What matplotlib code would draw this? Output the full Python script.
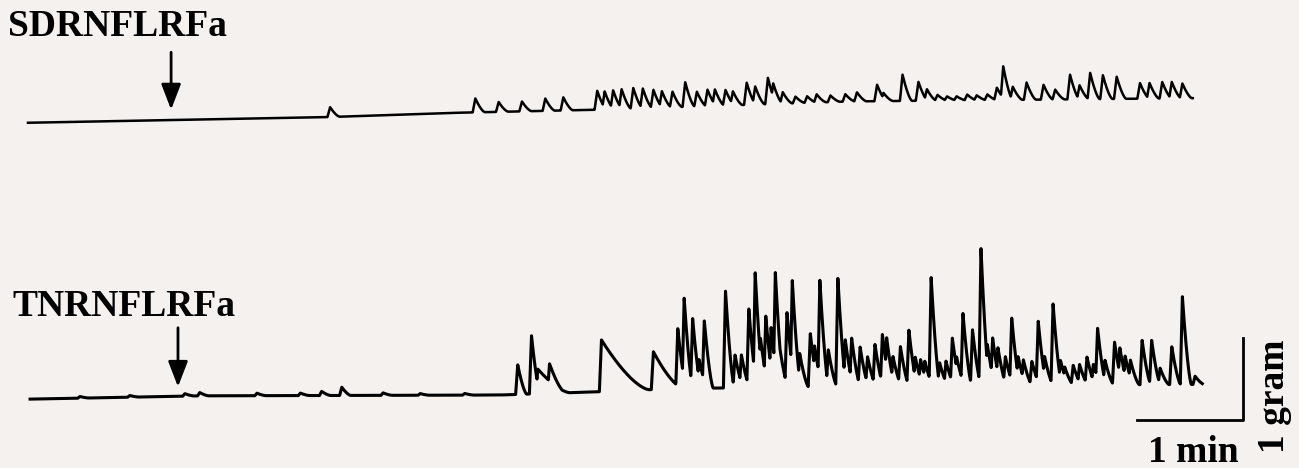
import numpy as np
import matplotlib.pyplot as plt

# time in minutes, force in grams (scale bar: 1 min x 1 gram)

# SDRNFLRFa trace (top)
sd_base_t = [0, 2.85, 3.98, 5.40, 7.75, 10.99]
sd_base_g = [0, 0.07, 0.12, 0.16, 0.26, 0.30]
sd_peak_t = [2.85, 4.22, 4.44, 4.66, 4.88, 5.05, 5.37, 5.44, 5.52, 5.60,
             5.71, 5.80, 5.90, 5.98, 6.08, 6.20, 6.31, 6.41, 6.48, 6.58,
             6.65, 6.78, 6.86, 6.98, 7.03, 7.12, 7.24, 7.35, 7.44, 7.57,
             7.71, 7.82, 8.01, 8.07, 8.25, 8.40, 8.48, 8.58, 8.67, 8.76,
             8.86, 8.95, 9.05, 9.14, 9.20, 9.29, 9.42, 9.58, 9.69, 9.83,
             9.92, 10.02, 10.14, 10.27, 10.49, 10.58, 10.70, 10.79, 10.89]
sd_peak_g = [0.12, 0.17, 0.12, 0.12, 0.15, 0.16, 0.23, 0.22, 0.23, 0.24,
             0.25, 0.24, 0.22, 0.20, 0.19, 0.30, 0.18, 0.20, 0.20, 0.19,
             0.17, 0.27, 0.22, 0.32, 0.25, 0.14, 0.08, 0.08, 0.10, 0.08,
             0.09, 0.11, 0.20, 0.10, 0.32, 0.23, 0.14, 0.07, 0.05, 0.05,
             0.07, 0.06, 0.07, 0.15, 0.41, 0.16, 0.21, 0.18, 0.12, 0.30,
             0.17, 0.32, 0.29, 0.27, 0.19, 0.19, 0.20, 0.20, 0.18]

# TNRNFLRFa trace (bottom)
tn_base_t = [0.02, 1.62, 4.45, 5.38, 6.15, 8.23, 11.08]
tn_base_g = [0, 0.04, 0.05, 0.09, 0.13, 0.16, 0.18]
tn_peak_t = [0.49, 0.96, 1.48, 1.62, 2.16, 2.57, 2.77, 2.96, 3.35, 3.70,
             4.12, 4.62, 4.75,
             6.13, 6.19, 6.27, 6.33, 6.38, 6.58, 6.67, 6.73, 6.80, 6.86,
             6.91, 6.96, 7.01, 7.05, 7.09, 7.16, 7.21, 7.28, 7.38, 7.42,
             7.47, 7.55, 7.64, 7.71, 7.77, 7.85, 7.92, 7.99, 8.06, 8.10,
             8.16, 8.23, 8.31, 8.37, 8.42, 8.46, 8.52, 8.60, 8.66, 8.72,
             8.76, 8.82, 8.91, 8.99, 9.05, 9.10, 9.15, 9.22, 9.28, 9.34,
             9.39, 9.47, 9.53, 9.59, 9.67, 9.74, 9.78, 9.86, 9.92, 9.99,
             10.05, 10.09, 10.16, 10.25, 10.30, 10.35, 10.40, 10.51, 10.60,
             10.68, 10.79, 10.89, 11.01]
tn_peak_g = [0.02, 0.02, 0.03, 0.04, 0.03, 0.03, 0.05, 0.10, 0.03, 0.02,
             0.02, 0.36, 0.71,
             0.73, 1.10, 0.85, 0.35, 0.82, 1.18, 0.40, 0.40, 0.96, 1.40,
             0.60, 0.87, 0.73, 1.40, 0.50, 0.91, 1.30, 0.41, 0.65, 0.50,
             1.30, 0.45, 1.32, 0.57, 0.59, 0.48, 0.36, 0.51, 0.63, 0.59,
             0.36, 0.48, 0.68, 0.35, 0.32, 0.30, 1.32, 0.28, 0.30, 0.58,
             0.35, 0.88, 0.68, 1.67, 0.50, 0.58, 0.46, 0.35, 0.82, 0.35,
             0.31, 0.29, 0.78, 0.35, 0.99, 0.30, 0.22, 0.24, 0.25, 0.34,
             0.25, 0.69, 0.30, 0.52, 0.45, 0.35, 0.30, 0.54, 0.54,
             0.20, 0.46, 1.07, 0.10]
# slow-decaying bursts (peak time, height, decay length in min)
tn_slow_t = [4.81, 4.92, 5.41, 5.54, 5.90]
tn_slow_g = [0.30, 0.36, 0.63, 0.30, 0.46]
tn_slow_d = [0.30, 0.15, 0.45, 0.20, 0.28]

labels = ['SDRNFLRFa', 'TNRNFLRFa']
arrow_t = [1.35, 1.415]


def trace(t, base_t, base_g, pk_t, pk_g, dec, rise):
    y = np.zeros_like(t)
    for tp, a, d in zip(pk_t, pk_g, dec):
        s = t - tp
        k = np.where(s < 0, np.clip(1 + s / rise, 0, 1), np.clip(1 - s / d, 0, 1) ** 1.5)
        y = np.maximum(y, a * k)
    return np.interp(t, base_t, base_g) + y


fig = plt.figure(figsize=(12.99, 4.68), dpi=100)
fig.patch.set_facecolor('#f4f1ef')
ax = fig.add_axes([0, 0, 1, 1])
ax.set_facecolor('#f4f1ef')
ax.set_xlim(-0.264, 11.99)
ax.set_ylim(0, 5.707)
ax.axis('off')

t1 = np.arange(0, 10.99, 0.002)
y1 = trace(t1, sd_base_t, sd_base_g, sd_peak_t, sd_peak_g, [0.09] * len(sd_peak_t), 0.025)
ax.plot(t1, 4.21 + y1, color='black', lw=1.8, solid_joinstyle='round')

t2 = np.arange(0.02, 11.08, 0.002)
y2 = trace(t2, tn_base_t, tn_base_g, tn_peak_t + tn_slow_t, tn_peak_g + tn_slow_g,
           [0.085] * len(tn_peak_t) + tn_slow_d, 0.02)
ax.plot(t2, 0.84 + y2, color='black', lw=2.2, solid_joinstyle='round')

font = dict(family='Liberation Serif', weight='bold', color='black')
ax.text(-0.19, 5.27, labels[0], fontsize=27, va='baseline', ha='left', **font)
ax.text(-0.15, 1.85, labels[1], fontsize=27, va='baseline', ha='left', **font)

for x, (y0, y1_) in zip(arrow_t, [(5.07, 4.37), (1.71, 0.99)]):
    ax.annotate('', xy=(x, y1_), xytext=(x, y0),
                arrowprops=dict(arrowstyle='-|>,head_length=1.3,head_width=0.5',
                                mutation_scale=12, lw=2, color='black',
                                shrinkA=0, shrinkB=0))

# scale bar
ax.plot([10.46, 11.46, 11.46], [0.585, 0.585, 1.585], color='black', lw=2)
ax.text(10.99, 0.073, '1 min', fontsize=27, ha='center', va='baseline', **font)
ax.text(11.76, 0.88, '1 gram', fontsize=27, ha='center', va='center', rotation=90, **font)

fig.savefig('out.png', dpi=100, facecolor=fig.get_facecolor())
